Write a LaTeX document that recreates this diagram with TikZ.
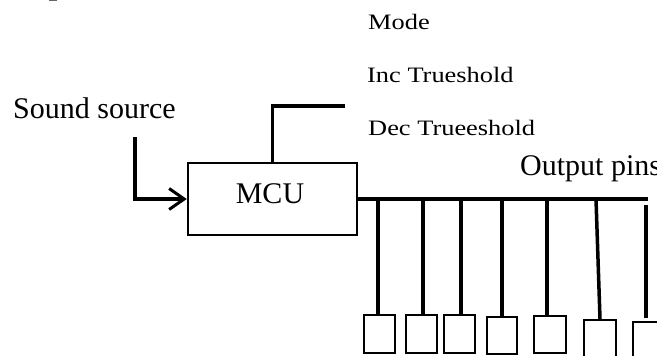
\documentclass[tikz,border=0pt]{standalone}
\usepackage{fontspec}
\setmainfont{Liberation Serif}
\usetikzlibrary{arrows.meta}
\tikzset{
  big/.style={font=\fontsize{30}{32}\selectfont, inner sep=0pt},
  small/.style={font=\fontsize{22}{26}\selectfont, inner sep=0pt},
  conn/.style={line width=3.2pt},
  busline/.style={line width=4pt},
  drop/.style={line width=3.5pt},
  pinbox/.style={draw, line width=2.4pt, inner sep=0pt, minimum width=31pt, minimum height=38pt},
  mcubox/.style={draw, line width=2.5pt, inner sep=0pt, minimum width=169pt, minimum height=72pt}
}
\begin{document}
\begin{tikzpicture}[x=1pt,y=-1pt]
\useasboundingbox (0,0) rectangle (657,356);
\clip (0,0) rectangle (657,356);
\draw[line width=1.5pt, black!60] (49,0.6) -- (57,0.6);
% texts
\node[big, anchor=base west] (snd) at (13,118) {Sound source};
\node[small, anchor=base west] (mode) at (368,30) {\scalebox{1.2}[1]{Mode}};
\node[small, anchor=base west] (inc) at (367,82) {\scalebox{1.2}[1]{Inc Trueshold}};
\node[small, anchor=base west] (dec) at (368,135) {\scalebox{1.2}[1]{Dec Trueeshold}};
\node[big, anchor=base west] (outp) at (520,175) {Output pins};
% MCU
\node[mcubox] (mcu) at (272.5,199) {};
\node[big, anchor=base] (mcut) at (270,203) {MCU};
% input arrow
\coordinate (src) at (135,137);
\draw[conn, -{Straight Barb[length=15pt, width=21pt, line width=3pt]}] (src) |- (mcu.west);
% control line
\coordinate (ctl) at (345,106);
\draw[conn] (mcu.north) |- (ctl);
% bus
\coordinate (busend) at (648,199);
\draw[busline] (mcu.east) -- (busend);
% output boxes
\node[pinbox] (b1) at (379.5,334) {};
\node[pinbox] (b2) at (421.5,334) {};
\node[pinbox] (b3) at (459.5,334) {};
\node[pinbox, minimum width=30pt, minimum height=37pt] (b4) at (502,335.5) {};
\node[pinbox, minimum width=32pt, minimum height=37pt] (b5) at (550,334.5) {};
\node[pinbox, minimum width=32pt] (b6) at (600,339) {};
\node[pinbox, minimum width=32pt] (b7) at (649,341) {};
% drops
\coordinate (d1) at (378,199);
\coordinate (d2) at (423,199);
\coordinate (d3) at (461,199);
\coordinate (d4) at (502,199);
\coordinate (d5) at (547,199);
\coordinate (d6) at (596,199);
\coordinate (d7) at (646,205);
\draw[drop] (d1) -- (d1 |- b1.north);
\draw[drop] (d2) -- (d2 |- b2.north);
\draw[drop] (d3) -- (d3 |- b3.north);
\draw[drop] (d4) -- (d4 |- b4.north);
\draw[drop] (d5) -- (d5 |- b5.north);
\draw[drop] (d6) -- (b6.north);
\draw[drop, shorten >=3pt] (d7) -- (d7 |- b7.north);
\end{tikzpicture}
\end{document}
